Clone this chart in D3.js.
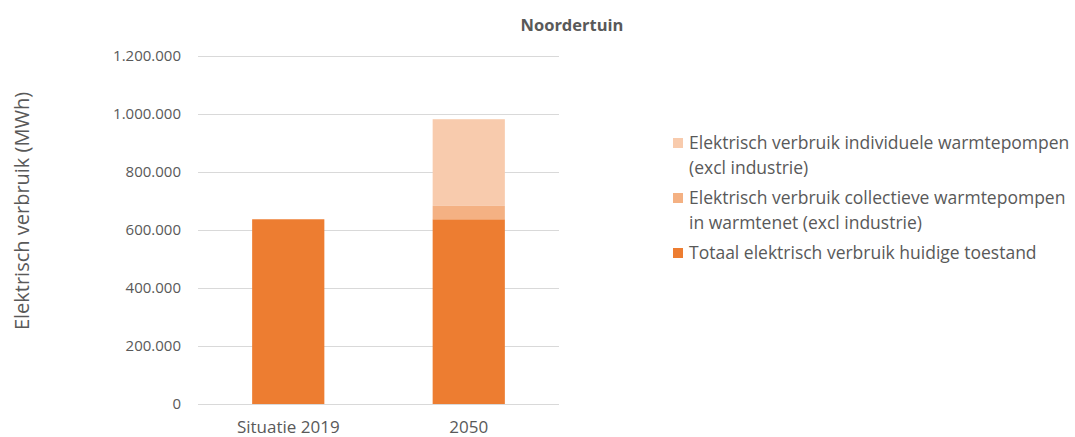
<!DOCTYPE html>
<html>
<head>
<meta charset="utf-8">
<script src="https://cdn.jsdelivr.net/npm/d3@7"></script>
<style>
  html, body { margin: 0; padding: 0; background: #fff; }
  svg { display: block; }
  text { font-family: "Open Sans", "Noto Sans", sans-serif; fill: #595959; }
</style>
</head>
<body>
<svg id="chart" width="1075" height="437"></svg>
<script>
const categories = ["Situatie 2019", "2050"];
const seriesNames = [
  "Totaal elektrisch verbruik huidige toestand",
  "Elektrisch verbruik collectieve warmtepompen in warmtenet (excl industrie)",
  "Elektrisch verbruik individuele warmtepompen (excl industrie)"
];
const totaalHuidig = [637000, 637000];
const collectieveWP = [0, 46000];
const individueleWP = [0, 299000];
const yTicks = [0, 200000, 400000, 600000, 800000, 1000000, 1200000];
const legendLines = [
  ["Elektrisch verbruik individuele warmtepompen", "(excl industrie)"],
  ["Elektrisch verbruik collectieve warmtepompen", "in warmtenet (excl industrie)"],
  ["Totaal elektrisch verbruik huidige toestand"]
];
const colors = ["#ED7D31", "#F4B183", "#F8CBAD"];
const chartTitle = "Noordertuin";
const yTitle = "Elektrisch verbruik (MWh)";

(function () {
const svg = d3.select("#chart");
const mLeft = 198, mRight = 559, mTop = 56, mBottom = 404;

const x = d3.scaleBand().domain(categories).range([mLeft, mRight]).paddingInner(0.6).paddingOuter(0.3);
const y = d3.scaleLinear().domain([0, 1200000]).range([mBottom, mTop]);

const fmt = v => d3.format(",")(v).replace(/,/g, ".");

// gridlines
svg.append("g").selectAll("line").data(yTicks).join("line")
  .attr("x1", mLeft).attr("x2", mRight)
  .attr("y1", d => y(d) + 0.5).attr("y2", d => y(d) + 0.5)
  .attr("stroke", "#d9d9d9").attr("stroke-width", 1);

// y tick labels
svg.append("g").selectAll("text").data(yTicks).join("text")
  .attr("x", 181).attr("y", d => y(d)).attr("dy", "0.35em")
  .attr("text-anchor", "end").style("font-size", "15px")
  .text(d => fmt(d));

// stacked data
const table = categories.map((c, i) => ({
  cat: c, s0: totaalHuidig[i], s1: collectieveWP[i], s2: individueleWP[i]
}));
const stack = d3.stack().keys(["s0", "s1", "s2"])(table);

svg.append("g").selectAll("g").data(stack).join("g")
  .attr("fill", (d, i) => colors[i])
  .selectAll("rect").data(d => d.filter(p => p[1] > p[0])).join("rect")
  .attr("x", d => x(d.data.cat))
  .attr("width", x.bandwidth())
  .attr("y", d => y(d[1]))
  .attr("height", d => y(d[0]) - y(d[1]));

// x labels
svg.append("g").selectAll("text").data(categories).join("text")
  .attr("x", d => x(d) + x.bandwidth() / 2).attr("y", 427).attr("dy", "0.35em")
  .attr("text-anchor", "middle").style("font-size", "17px")
  .text(d => d);

// title
svg.append("text").attr("x", 572).attr("y", 25).attr("dy", "0.35em")
  .attr("text-anchor", "middle").style("font-size", "16.5px").style("font-weight", "bold")
  .text(chartTitle);

// y title
svg.append("text")
  .attr("transform", "translate(22,211) rotate(-90)")
  .attr("dy", "0.35em").attr("text-anchor", "middle").style("font-size", "20px")
  .text(yTitle);

// legend
const legendY = [143, 198, 253];
const lg = svg.append("g");
legendLines.forEach((lines, i) => {
  const ci = 2 - i;
  lg.append("rect").attr("x", 673).attr("y", legendY[i] - 5).attr("width", 10).attr("height", 10)
    .attr("fill", colors[ci]);
  lines.forEach((ln, j) => {
    lg.append("text").attr("x", 689).attr("y", legendY[i] + j * 25).attr("dy", "0.35em")
      .style("font-size", "17.5px").text(ln);
  });
});
})();
</script>
</body>
</html>
